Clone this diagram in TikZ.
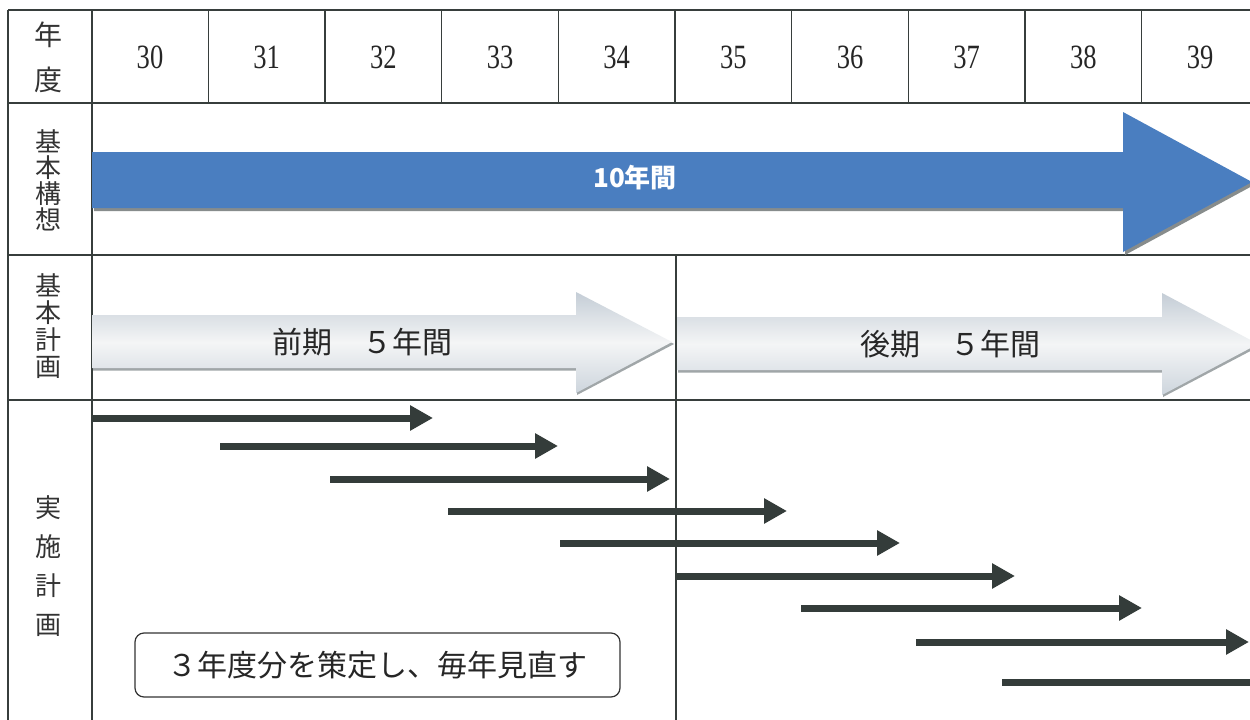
\documentclass[tikz,border=0pt]{standalone}
\usepackage{fontspec}
\usepackage{graphicx}
\newfontfamily\jp{Noto Sans CJK JP}
\newfontfamily\numfont{Liberation Serif}
\usetikzlibrary{arrows.meta}
\definecolor{gridc}{RGB}{55,62,60}
\definecolor{bluearr}{RGB}{74,126,192}
\definecolor{darkarr}{RGB}{52,60,58}
\definecolor{silvtop}{RGB}{196,205,214}
\definecolor{silvmid}{RGB}{244,245,246}
\definecolor{silvbot}{RGB}{205,213,221}
\definecolor{shadowc}{RGB}{135,140,140}
\definecolor{lightshadow}{RGB}{160,166,168}
\tikzset{
  gridline/.style={draw=gridc, line width=1.3pt},
  yearlab/.style={font=\numfont\fontsize{34}{34}\selectfont, inner sep=0pt, text=black!85},
  rowlab/.style={font=\jp\fontsize{26}{26}\selectfont, inner sep=0pt, align=center, text=black!80},
  planarrow/.style={line width=7pt, draw=darkarr, -{Triangle[length=23pt,width=24pt]}},
  bigshadow/.style={fill=shadowc},
  silvshadow/.style={fill=lightshadow},
  silver/.style={top color=silvtop, bottom color=silvbot, middle color=silvmid, draw=none},
  arrowtext/.style={font=\jp\fontsize{30}{30}\selectfont, inner sep=0pt, text=black!85},
  notebox/.style={draw=black!80, line width=1.2pt, rounded corners=9pt, minimum width=485pt, minimum height=64pt, font=\jp\fontsize{30}{30}\selectfont, text=black!85}
}
\begin{document}
\begin{tikzpicture}[x=1pt,y=-1pt]
\useasboundingbox (0,0) rectangle (1250,720);
\fill[white] (0,0) rectangle (1250,720);
\clip (0,0) rectangle (1250,720);

% grid
\draw[gridline] (8,10) -- (1250,10);
\draw[gridline] (8,103) -- (1250,103);
\draw[gridline] (8,255) -- (1250,255);
\draw[gridline] (8,400) -- (1250,400);
\draw[gridline] (8,10) -- (8,720);
\draw[gridline] (92,10) -- (92,720);
\foreach \x in {208.3,325,441.7,558.3,675,791.7,908.3,1025,1141.7}
  \draw[gridline] (\x,10) -- (\x,103);
\draw[gridline] (676,255) -- (676,720);

% header
\node[rowlab, font=\jp\fontsize{28}{45}\selectfont] (nendo) at (48,57) {年\\度};
\foreach \n [count=\i from 0] in {30,31,32,33,34,35,36,37,38,39}
  \node[yearlab] (y\n) at ({150+116.67*\i},57) {\scalebox{0.78}[1]{\n}};

% row labels
\node[rowlab] (kousou) at (48,180) {基\\本\\構\\想};
\node[rowlab, font=\jp\fontsize{26}{27}\selectfont] (keikaku) at (48,326) {基\\本\\計\\画};
\node[rowlab, font=\jp\fontsize{26}{39}\selectfont] (jisshi) at (48,566) {実\\施\\計\\画};

% blue arrow (10 years)
\fill[bigshadow] (94,155) -- (1125,155) -- (1125,115) -- (1254,185) -- (1125,255) -- (1125,211) -- (94,211) -- cycle;
\fill[bluearr] (92,152) -- (1123,152) -- (1123,112) -- (1252,182) -- (1123,252) -- (1123,208) -- (92,208) -- cycle;
\node[font=\jp\bfseries\fontsize{26}{26}\selectfont, text=white, inner sep=0pt] (ten) at (635,178) {10年間};

% silver arrows
\fill[silvshadow] (93,317) -- (577,317) -- (577,294) -- (674,344) -- (577,395) -- (577,370.5) -- (93,370.5) -- cycle;
\path[silver] (92,315) -- (576,315) -- (576,292) -- (672,342) -- (576,393) -- (576,368) -- (92,368) -- cycle;
\node[arrowtext] (zenki) at (362,342) {前期　５年間};

\fill[silvshadow] (678,319) -- (1163,319) -- (1163,295) -- (1260,346) -- (1163,397) -- (1163,372.5) -- (678,372.5) -- cycle;
\path[silver] (677,317) -- (1162,317) -- (1162,293) -- (1258,344) -- (1162,395) -- (1162,370) -- (677,370) -- cycle;
\node[arrowtext] (kouki) at (950,344) {後期　５年間};

% implementation plan arrows
\foreach \i/\sx/\ex/\yy in {1/92/433/418, 2/220/558/446, 3/330/670/479, 4/448/787/511, 5/560/900/543, 6/675/1015/576, 7/801/1142/608, 8/916/1249/642, 9/1002/1350/682} {
  \coordinate (s\i) at (\sx,\yy);
  \coordinate (e\i) at (\ex,\yy);
  \draw[planarrow] (s\i) -- (e\i);
}

% note box
\node[notebox] (note) at (377.5,665) {３年度分を策定し、毎年見直す};
\end{tikzpicture}
\end{document}
